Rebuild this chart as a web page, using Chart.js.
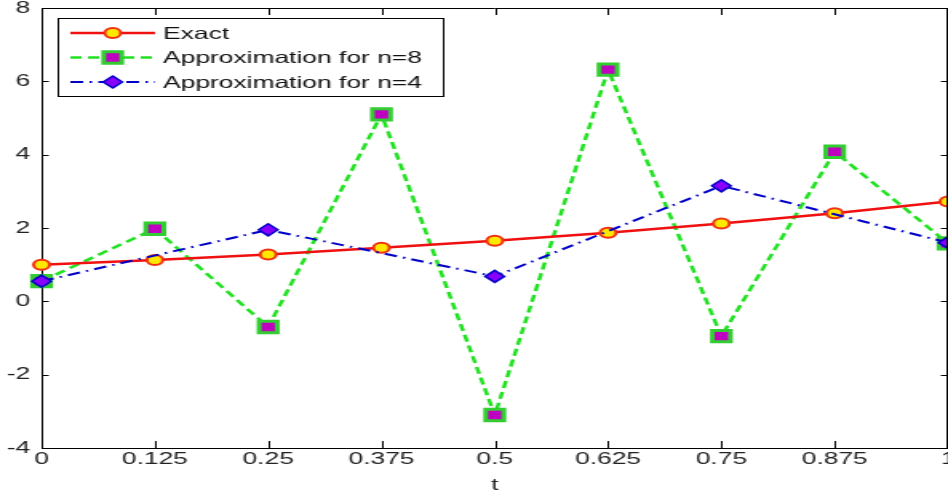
<!DOCTYPE html>
<html>
<head>
<meta charset="utf-8">
<script src="https://cdn.jsdelivr.net/npm/chart.js@4.4.0/dist/chart.umd.min.js"></script>
<style>
  html, body { margin: 0; padding: 0; background: #fff; overflow: hidden; }
  /* the original figure is stretched sideways, so the canvas is drawn narrow and widened */
  #plot { display: block; width: 948px; height: 495px; }
</style>
</head>
<body>
<canvas id="plot" width="593" height="495" style="width:948px;height:495px"></canvas>
<script>
  const tValues = [0, 0.125, 0.25, 0.375, 0.5, 0.625, 0.75, 0.875, 1];
  const exactValues = [1.00, 1.13, 1.28, 1.46, 1.65, 1.87, 2.12, 2.40, 2.72];
  const approx8Values = [0.55, 1.98, -0.70, 5.10, -3.10, 6.32, -0.95, 4.08, 1.58];
  const t4Values = [0, 0.25, 0.5, 0.75, 1];
  const approx4Values = [0.55, 1.95, 0.68, 3.15, 1.60];

  const xTicks = [0, 0.125, 0.25, 0.375, 0.5, 0.625, 0.75, 0.875, 1];
  const xTickLabels = ['0', '0.125', '0.25', '0.375', '0.5', '0.625', '0.75', '0.875', '1'];
  const yTicks = [-4, -2, 0, 2, 4, 6, 8];
  const yTickLabels = ['-4', '-2', '0', '2', '4', '6', '8'];

  const seriesNames = ['Exact', 'Approximation for n=8', 'Approximation for n=4'];

  const FONT = '"Liberation Sans", Arial, sans-serif';

  function toPoints(xs, ys) {
    return xs.map((x, i) => ({ x: x, y: ys[i] }));
  }

  // MATLAB style: ticks pointing inward on all four sides, plus the top border
  const boxTicks = {
    id: 'boxTicks',
    afterDraw(chart) {
      const { ctx, chartArea: a, scales } = chart;
      ctx.save();
      ctx.strokeStyle = '#000';
      ctx.lineWidth = 1;
      ctx.beginPath();
      ctx.moveTo(a.left, a.top + 0.5);
      ctx.lineTo(a.right, a.top + 0.5);
      ctx.moveTo(a.right - 0.5, a.top);
      ctx.lineTo(a.right - 0.5, a.bottom);
      xTicks.forEach(v => {
        const px = Math.round(scales.x.getPixelForValue(v)) + 0.5;
        ctx.moveTo(px, a.bottom);
        ctx.lineTo(px, a.bottom - 7);
        ctx.moveTo(px, a.top);
        ctx.lineTo(px, a.top + 7);
      });
      yTicks.forEach(v => {
        const py = Math.round(scales.y.getPixelForValue(v)) + 0.5;
        ctx.moveTo(a.left, py);
        ctx.lineTo(a.left + 4.5, py);
        ctx.moveTo(a.right, py);
        ctx.lineTo(a.right - 4.5, py);
      });
      ctx.stroke();
      ctx.restore();
    }
  };

  function drawMarker(ctx, ds, x, y) {
    const r = ds.pointRadius;
    ctx.save();
    ctx.fillStyle = ds.pointBackgroundColor;
    ctx.strokeStyle = ds.pointBorderColor;
    ctx.lineWidth = ds.pointBorderWidth;
    ctx.setLineDash([]);
    ctx.beginPath();
    if (ds.pointStyle === 'circle') {
      ctx.arc(x, y, r, 0, Math.PI * 2);
    } else if (ds.pointStyle === 'rect') {
      const s = Math.SQRT1_2 * r;
      ctx.rect(x - s, y - s, 2 * s, 2 * s);
    } else {
      ctx.moveTo(x, y - r);
      ctx.lineTo(x + r, y);
      ctx.lineTo(x, y + r);
      ctx.lineTo(x - r, y);
      ctx.closePath();
    }
    ctx.fill();
    ctx.stroke();
    ctx.restore();
  }

  // legend box with line + marker samples like the original
  const boxLegend = {
    id: 'boxLegend',
    afterDraw(chart) {
      const ctx = chart.ctx;
      const left = 36, top = 18, width = 241, height = 78;
      ctx.save();
      ctx.fillStyle = '#fff';
      ctx.fillRect(left, top, width, height);
      ctx.strokeStyle = '#000';
      ctx.lineWidth = 1;
      ctx.strokeRect(left + 0.5, top + 0.5, width, height);
      seriesNames.forEach((name, i) => {
        const ds = chart.data.datasets.find(d => d.label === name);
        const y = 33 + i * 24.5;
        ctx.save();
        ctx.strokeStyle = ds.borderColor;
        ctx.lineWidth = ds.borderWidth;
        ctx.setLineDash(ds.borderDash || []);
        ctx.beginPath();
        ctx.moveTo(44, y);
        ctx.lineTo(97, y);
        ctx.stroke();
        ctx.restore();
        drawMarker(ctx, ds, 70.5, y);
        ctx.fillStyle = '#111';
        ctx.font = '16.5px ' + FONT;
        ctx.textBaseline = 'middle';
        ctx.textAlign = 'left';
        ctx.fillText(name, 102, y + 1);
      });
      ctx.restore();
    }
  };

  const ctx = document.getElementById('plot').getContext('2d');
  const chart = new Chart(ctx, {
    type: 'line',
    data: {
      datasets: [
        {
          label: seriesNames[2],
          data: toPoints(t4Values, approx4Values),
          borderColor: '#0000c8',
          borderWidth: 2,
          borderDash: [8, 4, 1.5, 4],
          pointStyle: 'rectRot',
          pointRadius: 6,
          pointBackgroundColor: '#8a00ff',
          pointBorderColor: '#0000c8',
          pointBorderWidth: 1.5,
          order: 1
        },
        {
          label: seriesNames[0],
          data: toPoints(tValues, exactValues),
          borderColor: '#f01010',
          borderWidth: 2.5,
          pointStyle: 'circle',
          pointRadius: 5,
          pointBackgroundColor: '#ffe800',
          pointBorderColor: '#f03010',
          pointBorderWidth: 2,
          order: 2
        },
        {
          label: seriesNames[1],
          data: toPoints(tValues, approx8Values),
          borderColor: '#22e022',
          borderWidth: 2.5,
          borderDash: [7, 4],
          pointStyle: 'rect',
          pointRadius: 8,
          pointBackgroundColor: '#c000c0',
          pointBorderColor: '#33cc33',
          pointBorderWidth: 3,
          order: 3
        }
      ]
    },
    options: {
      responsive: false,
      animation: false,
      devicePixelRatio: 1,
      clip: false,
      elements: { line: { tension: 0 } },
      layout: { autoPadding: false, padding: { top: 8, left: 0, right: 0, bottom: 0 } },
      plugins: {
        legend: { display: false },
        tooltip: { enabled: false }
      },
      scales: {
        x: {
          type: 'linear',
          min: 0,
          max: 1,
          afterBuildTicks: s => { s.ticks = xTicks.map(v => ({ value: v })); },
          afterFit: s => { s.height = 47; s.paddingLeft = 0; s.paddingRight = 0; },
          ticks: {
            autoSkip: false,
            maxRotation: 0,
            padding: 2,
            color: '#222',
            font: { family: FONT, size: 16.5 },
            callback: (v, i) => xTickLabels[i]
          },
          grid: { display: false, drawTicks: false },
          border: { display: true, color: '#000', width: 1 },
          title: {
            display: true,
            text: 't',
            color: '#222',
            font: { family: FONT, size: 16.5 },
            padding: { top: 0, bottom: 0 }
          }
        },
        y: {
          type: 'linear',
          min: -4,
          max: 8,
          afterBuildTicks: s => { s.ticks = yTicks.map(v => ({ value: v })); },
          afterFit: s => { s.width = 26; s.paddingTop = 0; s.paddingBottom = 0; },
          ticks: {
            autoSkip: false,
            padding: 7,
            color: '#222',
            font: { family: FONT, size: 16.5 },
            callback: (v, i) => yTickLabels[i]
          },
          grid: { display: false, drawTicks: false },
          border: { display: true, color: '#000', width: 1 }
        }
      }
    },
    plugins: [boxTicks, boxLegend]
  });
</script>
</body>
</html>
